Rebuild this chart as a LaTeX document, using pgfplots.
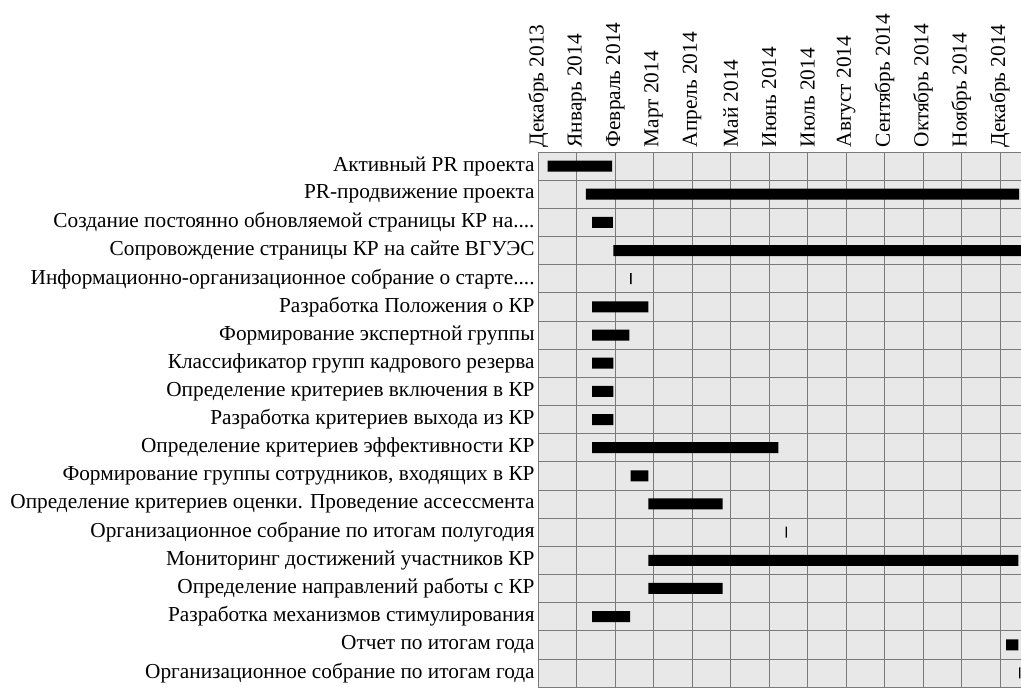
\documentclass[border=0pt]{standalone}
\usepackage{pgfplots}
\pgfplotsset{compat=1.18}
\usepackage{pgfplotstable}
\usepackage{fontspec}
\setmainfont{Liberation Serif}

\definecolor{cellbg}{HTML}{E8E8E8}
\definecolor{gridc}{HTML}{7A7A7A}
\newcommand\fourdots{....}

% start month (0 = Dec 2013) and duration in months
\pgfplotstableread{
row start dur
1  0.24 1.68
2  1.24 11.26
3  1.40 0.54
4  1.95 10.75
5  2.39 0.035
6  1.40 1.46
7  1.40 0.97
8  1.40 0.55
9  1.40 0.55
10 1.40 0.55
11 1.40 4.84
12 2.40 0.46
13 2.86 1.93
14 6.43 0.035
15 2.86 9.62
16 2.86 1.93
17 1.40 0.99
18 12.16 0.32
19 12.50 0.035
}\tasks

\begin{document}
\begin{tikzpicture}
\begin{axis}[
	name=ax,
	scale only axis,
	width=482.7pt, height=535pt,
	xmin=0, xmax=12.55,
	ymin=0.5, ymax=19.5,
	y dir=reverse,
	xbar stacked, bar width=11pt,
	axis line style={draw=none},
	axis background/.style={fill=cellbg},
	xtick={0,...,12},
	xticklabel pos=right,
	xticklabels={Декабрь 2013, Январь 2014, Февраль 2014, Март 2014, Апрель 2014, Май 2014, Июнь 2014, Июль 2014, Август 2014, Сентябрь 2014, Октябрь 2014, Ноябрь 2014, Декабрь 2014},
	xticklabel style={rotate=90, anchor=west, inner sep=1pt, inner xsep=4.5pt},
	ytick={1,...,19},
	minor ytick={0.5,1.5,...,19.5},
	yticklabels={
		{Активный PR проекта},
		{PR-продвижение проекта},
		{Создание постоянно обновляемой страницы КР на\fourdots},
		{Сопровождение страницы КР на сайте ВГУЭС},
		{Информационно-организационное собрание о старте\fourdots},
		{Разработка Положения о КР},
		{Формирование экспертной группы},
		{Классификатор групп кадрового резерва},
		{Определение критериев включения в КР},
		{Разработка критериев выхода из КР},
		{Определение критериев эффективности КР},
		{Формирование группы сотрудников, входящих в КР},
		{Определение критериев оценки. Проведение ассессмента},
		{Организационное собрание по итогам полугодия},
		{Мониторинг достижений участников КР},
		{Определение направлений работы с КР},
		{Разработка механизмов стимулирования},
		{Отчет по итогам года},
		{Организационное собрание по итогам года}},
	yticklabel style={inner sep=1pt, inner xsep=3.5pt},
	tick label style={font=\fontsize{21.3}{21.3}\selectfont, text=black},
	major tick length=0pt, minor tick length=0pt,
	xmajorgrids, yminorgrids,
	grid style={draw=gridc, line width=0.6pt},
]
\addplot[draw=none, fill=none] table[x=start, y=row] {\tasks};
\addplot[draw=none, fill=black] table[x=dur, y=row] {\tasks};
\end{axis}
\pgfresetboundingbox
\path[use as bounding box] ([xshift=-538.3pt]ax.south west) rectangle ([yshift=152pt]ax.north east);
\end{tikzpicture}
\end{document}
